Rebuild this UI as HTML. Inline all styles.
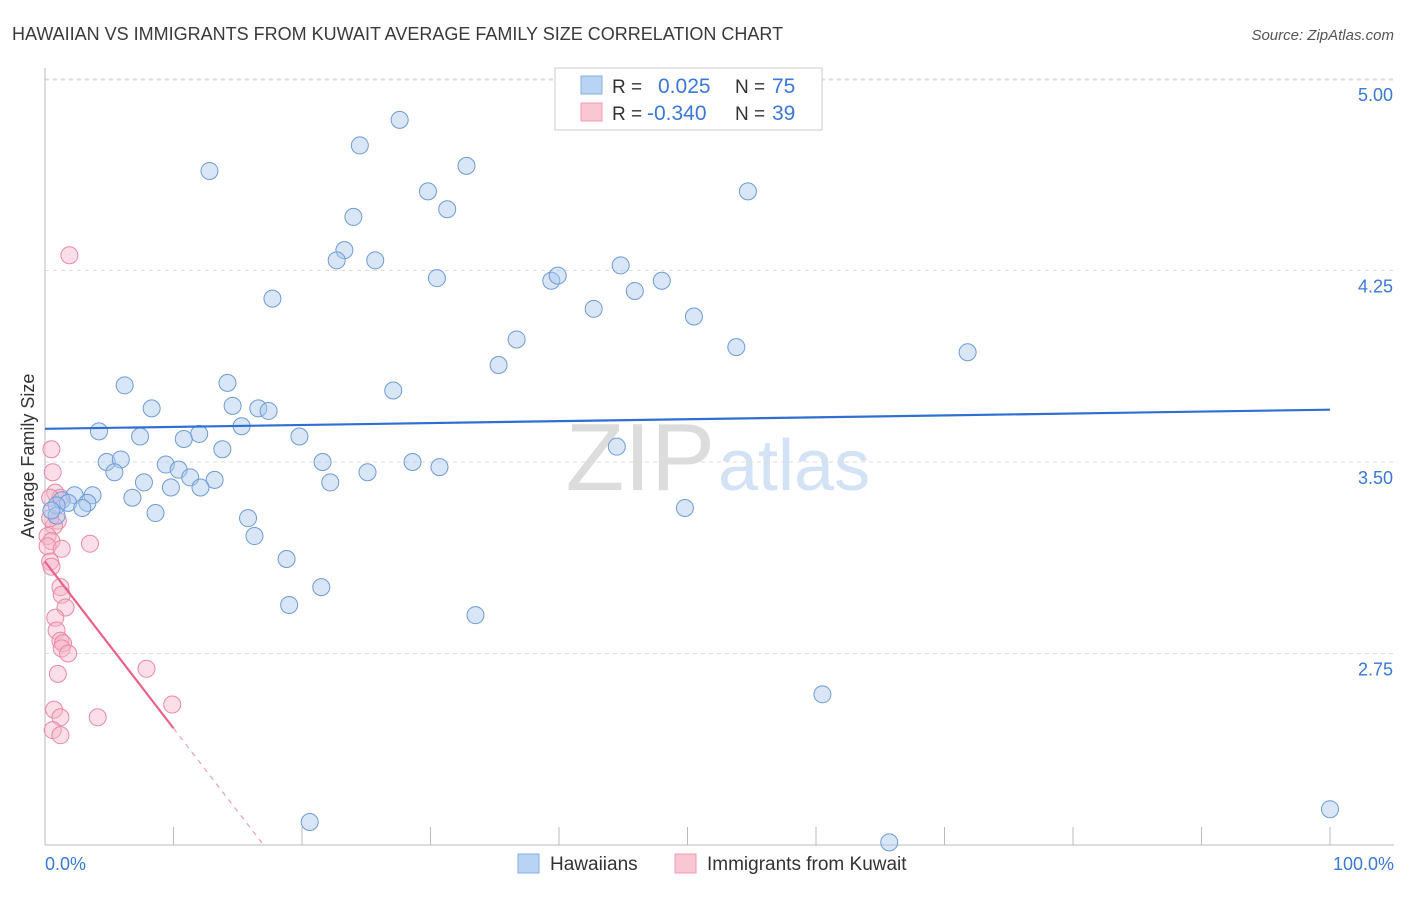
<!DOCTYPE html>
<html><head><meta charset="utf-8"><style>
body{margin:0;background:#fff;font-family:"Liberation Sans",sans-serif;}
svg text{font-family:"Liberation Sans",sans-serif;}
</style></head><body>
<svg id="c" width="1406" height="892">
<text x="12" y="40" font-size="18" fill="#3a3a3a">HAWAIIAN VS IMMIGRANTS FROM KUWAIT AVERAGE FAMILY SIZE CORRELATION CHART</text>
<text x="1394" y="40" font-size="15" fill="#555" text-anchor="end" font-style="italic">Source: ZipAtlas.com</text>
<text x="715" y="490" font-size="96" fill="#dcdcdc" text-anchor="end" font-family="Liberation Serif">ZIP</text>
<text x="718" y="490" font-size="72" fill="#d3e2f4">atlas</text>
<g id="grid"></g><g id="axes"></g><g id="marks"></g>
<text transform="translate(34,456) rotate(-90)" font-size="18" fill="#333" text-anchor="middle">Average Family Size</text>
<text x="45" y="870" font-size="18" fill="#3b78d8">0.0%</text>
<text x="1394" y="870" font-size="18" fill="#3b78d8" text-anchor="end">100.0%</text>
<g>
<rect x="555" y="68" width="267" height="62" fill="#fff" stroke="#ccc"/>
<rect x="581" y="76" width="21" height="18" fill="#b9d3f4" stroke="#88aee0"/>
<rect x="581" y="103" width="21" height="18" fill="#f9c6d4" stroke="#f09ab2"/>
<text x="612" y="93" font-size="19" fill="#333">R =</text><text x="658" y="93" font-size="21" fill="#3b78d8">0.025</text>
<text x="735" y="93" font-size="19" fill="#333">N =</text><text x="772" y="93" font-size="21" fill="#3b78d8">75</text>
<text x="612" y="120" font-size="19" fill="#333">R =</text><text x="647" y="120" font-size="21" fill="#3b78d8">-0.340</text>
<text x="735" y="120" font-size="19" fill="#333">N =</text><text x="772" y="120" font-size="21" fill="#3b78d8">39</text>
</g>
<g>
<rect x="518" y="854" width="21" height="19" fill="#b9d3f4" stroke="#88aee0"/>
<text x="550" y="870" font-size="19" fill="#333">Hawaiians</text>
<rect x="675" y="854" width="21" height="19" fill="#f9c6d4" stroke="#f09ab2"/>
<text x="707" y="870" font-size="19" fill="#333">Immigrants from Kuwait</text>
</g>
</svg>
<script>
const yTicks=[2.75,3.5,4.25,5.0];
const yTickLabels=["2.75","3.50","4.25","5.00"];
const blueX=[12.8,24.5,27.6,32.8,29.8,31.3,24.0,54.7,23.3,22.7,25.7,30.5,39.4,39.9,44.8,48.0,45.9,17.7,42.7,50.5,36.7,53.8,71.8,35.3,6.2,14.2,27.1,8.3,14.6,16.6,17.4,15.3,4.2,7.4,12.0,10.8,19.8,13.8,44.5,4.8,5.9,9.4,10.4,11.3,21.6,28.6,30.7,25.1,5.4,7.7,9.8,13.2,12.1,22.2,6.8,3.7,2.3,1.3,3.3,1.8,0.9,2.9,8.6,49.8,15.8,16.3,0.9,18.8,21.5,19.0,33.5,60.5,20.6,65.7,100.0,0.5];
const blueY=[4.64,4.74,4.84,4.66,4.56,4.49,4.46,4.56,4.33,4.29,4.29,4.22,4.21,4.23,4.27,4.21,4.17,4.14,4.10,4.07,3.98,3.95,3.93,3.88,3.80,3.81,3.78,3.71,3.72,3.71,3.70,3.64,3.62,3.60,3.61,3.59,3.60,3.55,3.56,3.50,3.51,3.49,3.47,3.44,3.50,3.50,3.48,3.46,3.46,3.42,3.40,3.43,3.40,3.42,3.36,3.37,3.37,3.35,3.34,3.34,3.33,3.32,3.30,3.32,3.28,3.21,3.29,3.12,3.01,2.94,2.90,2.59,2.09,2.01,2.14,3.31];
const pinkX=[1.9,0.5,0.6,0.8,1.2,0.4,1.0,0.7,0.2,0.5,0.2,1.3,3.5,0.4,0.5,1.2,1.3,1.6,0.8,0.9,1.2,1.4,1.3,1.8,7.9,1.0,0.7,9.9,4.1,1.2,0.6,1.2,0.4];
const pinkY=[4.31,3.55,3.46,3.38,3.36,3.36,3.27,3.25,3.21,3.19,3.17,3.16,3.18,3.11,3.09,3.01,2.98,2.93,2.89,2.84,2.80,2.79,2.77,2.75,2.69,2.67,2.53,2.55,2.50,2.50,2.45,2.43,3.28];
const blueTrend=[3.63,3.705];
const pinkTrend=[3.11,2.0];
const X0=45,X1=1330,Y0=845,YT=80;
function sx(v){return X0+(X1-X0)*v/100;}
function sy(v){return 462-(v-3.5)*255.3;}
const NS="http://www.w3.org/2000/svg";
function mk(t,a,p){const e=document.createElementNS(NS,t);for(const k in a)e.setAttribute(k,a[k]);p.appendChild(e);return e;}
const gridG=document.getElementById('grid'),axesG=document.getElementById('axes'),marksG=document.getElementById('marks');
yTicks.forEach((t,i)=>{
 const l=mk('line',{x1:X0,x2:1394,y1:sy(t),y2:sy(t),stroke:'#ddd','stroke-dasharray':'4,4'},gridG);
 
 
 const tx=mk('text',{x:1393,y:sy(t)+22,'font-size':18,fill:'#3b78d8','text-anchor':'end'},gridG);
 tx.textContent=yTickLabels[i];
 
 
});
const topGrid=mk('line',{x1:X0,x2:1394,y1:YT,y2:YT,stroke:'#ddd','stroke-dasharray':'4,4'},gridG);


const ya=mk('line',{x1:X0,x2:X0,y1:68,y2:Y0,stroke:'#bbb'},axesG);


const xa=mk('line',{x1:X0,x2:1394,y1:Y0,y2:Y0,stroke:'#bbb'},axesG);


for(let i=1;i<=10;i++){
 const t=mk('line',{x1:sx(i*10),x2:sx(i*10),y1:827,y2:Y0,stroke:'#bbb'},axesG);
 
 
}
function dots(xs,ys,fill,stroke,name){
 xs.forEach((x,i)=>{
  const c=mk('circle',{cx:sx(x),cy:sy(ys[i]),r:8.5,fill:fill,'fill-opacity':0.45,stroke:stroke,'stroke-width':1},marksG);
  
  
 });
}
dots(pinkX,pinkY,'#f7b6c9','#ec88a6','kuwait-point');
dots(blueX,blueY,'#a9c8f0','#6f9bd8','hawaiian-point');
const bl=mk('line',{x1:sx(0),y1:sy(blueTrend[0]),x2:sx(100),y2:sy(blueTrend[1]),stroke:'#2f6fd1','stroke-width':2.2},marksG);


const slope=(pinkTrend[1]-pinkTrend[0])/17.0;
const pe=10;
const pl=mk('line',{x1:sx(0),y1:sy(pinkTrend[0]),x2:sx(pe),y2:sy(pinkTrend[0]+slope*pe),stroke:'#e8628c','stroke-width':2.2},marksG);


const pd=mk('line',{x1:sx(pe),y1:sy(pinkTrend[0]+slope*pe),x2:sx(17.0),y2:sy(pinkTrend[1]),stroke:'#e8a0b6','stroke-width':1.2,'stroke-dasharray':'5,5'},marksG);


</script>
</body></html>
